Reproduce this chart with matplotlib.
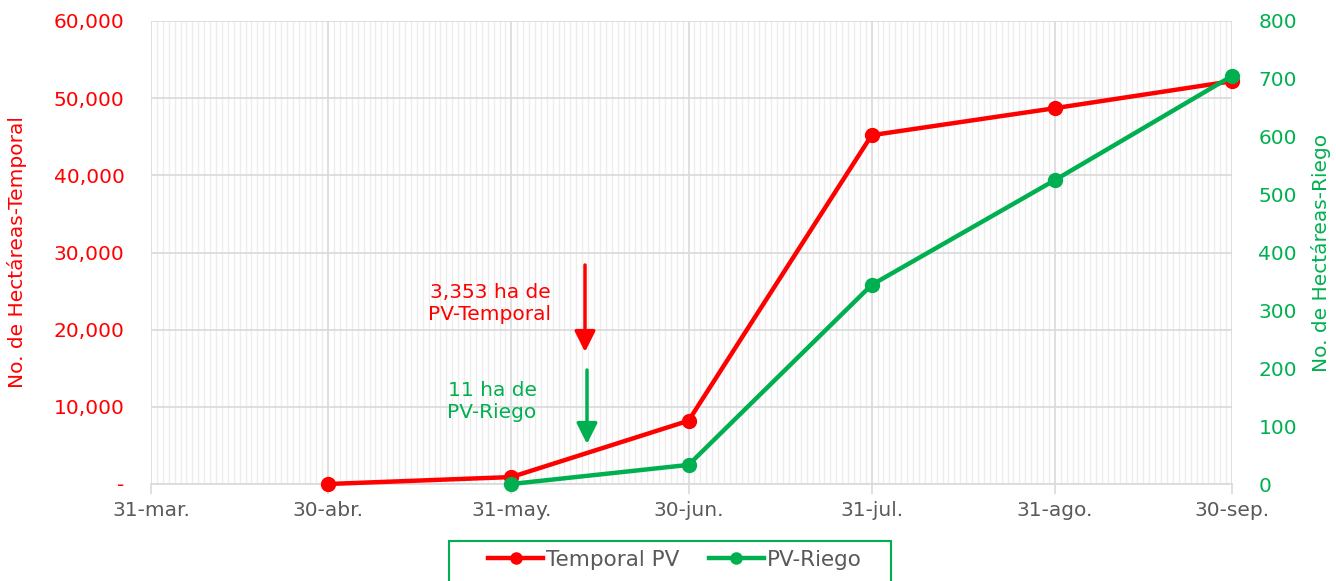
import matplotlib
matplotlib.use("Agg")
import matplotlib.pyplot as plt
from matplotlib.patches import Rectangle, FancyArrowPatch
from datetime import datetime, timedelta

# Data
tick_dates = ["2023-03-31", "2023-04-30", "2023-05-31", "2023-06-30", "2023-07-31", "2023-08-31", "2023-09-30"]
tick_labels = ["31-mar.", "30-abr.", "31-may.", "30-jun.", "31-jul.", "31-ago.", "30-sep."]

temporal_dates = ["2023-04-30", "2023-05-31", "2023-06-30", "2023-07-31", "2023-08-31", "2023-09-30"]
temporal_vals = [0, 900, 8200, 45200, 48700, 52200]

riego_dates = ["2023-05-31", "2023-06-30", "2023-07-31", "2023-08-31", "2023-09-30"]
riego_vals = [0, 33, 344, 525, 705]

left_ticks = [0, 10000, 20000, 30000, 40000, 50000, 60000]
right_ticks = [0, 100, 200, 300, 400, 500, 600, 700, 800]

RED = "#FF0000"
GREEN = "#00B050"
GRAY = "#595959"
GRID = "#D9D9D9"
MINOR = "#EDEDED"
FS = 14.5
LFS = 15.5

plt.rcParams['font.family'] = ['DejaVu Sans']

to_dt = lambda s: datetime.strptime(s, "%Y-%m-%d")
tdt = [to_dt(s) for s in tick_dates]

W, H = 1336, 581
fig = plt.figure(figsize=(W / 100, H / 100), dpi=100)
ax = fig.add_axes([151 / W, 1 - 484 / H, (1232 - 151) / W, (484 - 21) / H])
ax2 = ax.twinx()

# minor daily gridlines
start, end = tdt[0], tdt[-1]
d = start
minor_days = []
while d <= end:
    minor_days.append(d)
    d += timedelta(days=1)
ax.set_xticks(minor_days, minor=True)
ax.grid(True, which='minor', axis='x', color=MINOR, lw=1.0)
ax.set_xticks(tdt)
ax.set_xticklabels(tick_labels)
ax.grid(True, which='major', axis='x', color=GRID, lw=1.2)
ax.grid(True, which='major', axis='y', color=GRID, lw=1.2)
ax.set_axisbelow(True)

ax.set_xlim(start, end)
ax.set_ylim(0, 60000)
ax2.set_ylim(0, 800)

ax.set_yticks(left_ticks)
ax.set_yticklabels(["-" if v == 0 else f"{v:,}" for v in left_ticks])
ax2.set_yticks(right_ticks)
ax2.set_yticklabels([str(v) for v in right_ticks])

for a in (ax, ax2):
    for s in a.spines.values():
        s.set_visible(False)
ax.spines['bottom'].set_visible(True)
ax.spines['bottom'].set_color(GRID)
ax.spines['bottom'].set_linewidth(1.2)

ax.tick_params(axis='x', which='major', colors=GRID, length=7, width=1.2, labelcolor=GRAY, labelsize=FS, pad=5)
ax.tick_params(axis='x', which='minor', length=0)
ax.tick_params(axis='y', length=0, labelcolor=RED, labelsize=FS, pad=19)
ax2.tick_params(axis='y', length=0, labelcolor=GREEN, labelsize=FS, pad=19)

l1, = ax.plot([to_dt(s) for s in temporal_dates], temporal_vals, color=RED, lw=3.2,
              marker='o', ms=10, zorder=3, label="Temporal PV", clip_on=False)
l2, = ax2.plot([to_dt(s) for s in riego_dates], riego_vals, color=GREEN, lw=3.2,
               marker='o', ms=10, zorder=4, label="PV-Riego", clip_on=False)

ax.set_ylabel("No. de Hectáreas-Temporal", color=RED, fontsize=FS, labelpad=19)
ax2.set_ylabel("No. de Hectáreas-Riego", color=GREEN, fontsize=FS, labelpad=10)

# annotations (figure pixel coordinates)
def fx(x):
    return x / W

def fy(y):
    return 1 - y / H

fig.text(fx(490), fy(304), "3,353 ha de\nPV-Temporal", color=RED, fontsize=FS,
         ha='center', va='center', linespacing=1.2)
fig.text(fx(492), fy(401), "11 ha de\nPV-Riego", color=GREEN, fontsize=FS,
         ha='center', va='center', linespacing=1.2)
fig.add_artist(FancyArrowPatch((fx(585), fy(265)), (fx(585), fy(352)),
               transform=fig.transFigure, arrowstyle='-|>,head_length=0.9,head_width=0.45',
               color=RED, lw=2.5, mutation_scale=14, shrinkA=0, shrinkB=0))
fig.add_artist(FancyArrowPatch((fx(587), fy(370)), (fx(587), fy(444)),
               transform=fig.transFigure, arrowstyle='-|>,head_length=0.9,head_width=0.45',
               color=GREEN, lw=2.5, mutation_scale=14, shrinkA=0, shrinkB=0))

# legend frame
fig.add_artist(Rectangle((fx(449), fy(600)), (891 - 449) / W, (600 - 541) / H,
                         transform=fig.transFigure, fill=False, edgecolor=GREEN, lw=1.5))
leg = fig.legend(handles=[l1, l2], loc='upper center',
                 bbox_to_anchor=(675 / W, fy(539)),
                 bbox_transform=fig.transFigure, ncol=2, frameon=False,
                 fontsize=LFS, handlelength=2.55, columnspacing=1.35,
                 handletextpad=0.15, borderpad=0.5, borderaxespad=0)
for t in leg.get_texts():
    t.set_color(GRAY)
for h in leg.legend_handles:
    h.set_markersize(8)

fig.savefig("out.png", dpi=100)
